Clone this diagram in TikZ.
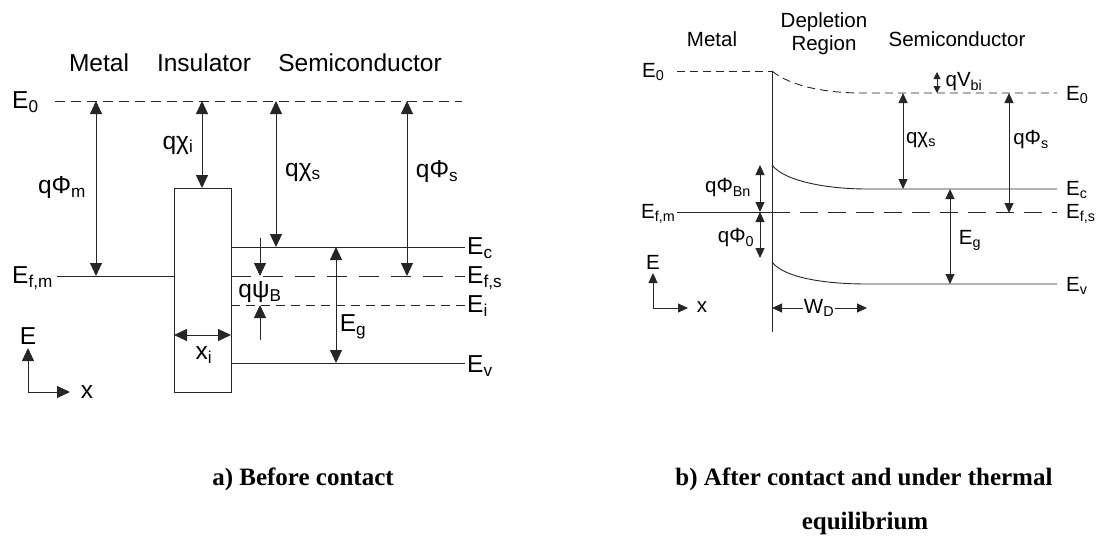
\documentclass[tikz,border=0pt]{standalone}
\usepackage{fontspec}
\setmainfont{Liberation Sans}
\newfontfamily\capfont{Liberation Serif}
\usetikzlibrary{arrows.meta}
\newcommand{\lsub}[1]{\textsubscript{#1}}
\tikzset{
  lvl/.style={line width=0.9pt,draw=black!85},
  lbl/.style={font=\fontsize{24.5}{28}\selectfont,inner sep=0pt},
  rlbl/.style={font=\fontsize{20.5}{24}\selectfont,inner sep=0pt},
  capt/.style={font=\capfont\bfseries\fontsize{25}{30}\selectfont,inner sep=0pt}
}

\begin{document}
\begin{tikzpicture}[x=1pt,y=-1pt]
  \useasboundingbox (0,0) rectangle (1097,538);
  % ---------- a) before contact ----------
  \begin{scope}[>={Triangle[length=13pt,width=12pt]}]
  % regions
  \node[lbl] (lmetal) at (99,63) {Metal};
  \node[lbl] (lins) at (204,63) {Insulator};
  \node[lbl] (lsemi) at (360,63) {Semiconductor};
  % levels
  \draw[lvl,dash pattern=on 10pt off 6pt] (55,101) -- (462,101);
  \draw[lvl] (57,276) -- (174,276);
  \draw[lvl] (174,188) rectangle (231,392);
  \draw[lvl] (231,247) -- (465,247);
  \draw[lvl,dash pattern=on 20pt off 12pt] (231,276) -- (465,276);
  \draw[lvl,dash pattern=on 9pt off 6pt] (231,305) -- (465,305);
  \draw[lvl] (231,363) -- (465,363);
  % level labels
  \node[lbl,anchor=west] (lE0) at (12,102) {E\lsub{0}};
  \node[lbl,anchor=west] (lEfm) at (12,278) {E\lsub{f,m}};
  \node[lbl,anchor=west] (lEc) at (467,248) {E\lsub{c}};
  \node[lbl,anchor=west] (lEfs) at (467,278) {E\lsub{f,s}};
  \node[lbl,anchor=west] (lEi) at (467,306) {E\lsub{i}};
  \node[lbl,anchor=west] (lEv) at (467,366) {E\lsub{v}};
  % energy differences
  \draw[lvl,<->] (96,101) -- (96,276);
  \node[lbl] (lphim) at (62,188) {qΦ\lsub{m}};
  \draw[lvl,<->] (202,101) -- (202,188);
  \node[lbl] (lchii) at (178,145) {qχ\lsub{i}};
  \draw[lvl,<->] (276,101) -- (276,247);
  \node[lbl] (lchis) at (303,172) {qχ\lsub{s}};
  \draw[lvl,<->] (407,101) -- (407,276);
  \node[lbl] (lphis) at (437,172) {qΦ\lsub{s}};
  \draw[lvl,<->] (336,247) -- (336,363);
  \node[lbl] (lEg) at (353,327) {E\lsub{g}};
  \draw[lvl,->] (260,238) -- (260,276);
  \draw[lvl,->] (260,340) -- (260,305);
  \node[lbl] (lpsib) at (260,292) {qψ\lsub{B}};
  \draw[lvl,<->] (174,335) -- (231,335);
  \node[lbl] (lxi) at (204,355) {x\lsub{i}};
  % axes
  \draw[lvl,->] (28,392) -- (28,348);
  \draw[lvl,->] (28,392) -- (70,392);
  \node[lbl] (lE) at (28,336) {E};
  \node[lbl] (lx) at (87,392) {x};
  \end{scope}
  % ---------- b) after contact ----------
  \begin{scope}[>={Triangle[length=10pt,width=9pt]}]
  \node[rlbl] (rmetal) at (712,39) {Metal};
  \node[rlbl] (rdep) at (824,22) {Depletion};
  \node[rlbl] (rreg) at (824,45) {Region};
  \node[rlbl] (rsemi) at (957,39) {Semiconductor};
  % levels
  \draw[lvl,dash pattern=on 8pt off 5pt] (677,71) -- (772,71);
  \draw[lvl,dash pattern=on 8pt off 5pt] (772,71) .. controls (790,86) and (825,93) .. (862,93) -- (1057,93);
  \draw[lvl] (772,165) .. controls (785,182) and (830,189) .. (867,189) -- (1057,189);
  \draw[lvl] (677,212) -- (772,212);
  \draw[lvl,dash pattern=on 18pt off 10pt] (772,212) -- (1057,212);
  \draw[lvl] (772,262) .. controls (785,279) and (830,284) .. (867,284) -- (1057,284);
  \draw[lvl] (772,71) -- (772,332);
  % level labels
  \node[rlbl,anchor=west] (rE0) at (642,72) {E\lsub{0}};
  \node[rlbl,anchor=west] (rEfm) at (641,214) {E\lsub{f,m}};
  \node[rlbl,anchor=west] (rE0s) at (1066,95) {E\lsub{0}};
  \node[rlbl,anchor=west] (rEc) at (1066,190) {E\lsub{c}};
  \node[rlbl,anchor=west] (rEfs) at (1066,214) {E\lsub{f,s}};
  \node[rlbl,anchor=west] (rEv) at (1066,286) {E\lsub{v}};
  % energy differences
  \draw[lvl,<->] (760,165) -- (760,212);
  \node[rlbl] (rphib) at (728,188) {qΦ\lsub{Bn}};
  \draw[lvl,<->] (760,212) -- (760,258);
  \node[rlbl] (rphi0) at (736,238) {qΦ\lsub{0}};
  \draw[lvl,<->,>={Triangle[length=7pt,width=7pt]}] (937,72) -- (937,93);
  \node[rlbl] (rvbi) at (964,82) {qV\lsub{bi}};
  \draw[lvl,<->] (903,93) -- (903,189);
  \node[rlbl] (rchis) at (921,140) {qχ\lsub{s}};
  \draw[lvl,<->] (1009,93) -- (1009,213);
  \node[rlbl] (rphis) at (1031,140) {qΦ\lsub{s}};
  \draw[lvl,<->] (950,189) -- (950,284);
  \node[rlbl] (rEg) at (970,240) {E\lsub{g}};
  % depletion width
  \node[rlbl,inner xsep=1pt] (rwd) at (819,308) {W\lsub{D}};
  \draw[lvl,->] (rwd.west) -- (772,308);
  \draw[lvl,->] (rwd.east) -- (867,308);
  % axes
  \draw[lvl,->] (653,308) -- (653,273);
  \draw[lvl,->] (653,308) -- (688,308);
  \node[rlbl] (rE) at (653,262) {E};
  \node[rlbl] (rx) at (702,307) {x};
  \end{scope}
  % captions
  \node[capt] (capa) at (303,479) {a) Before contact};
  \node[capt] (capb) at (864,479) {b) After contact and under thermal};
  \node[capt] (capc) at (865,523) {equilibrium};
\end{tikzpicture}
\end{document}
